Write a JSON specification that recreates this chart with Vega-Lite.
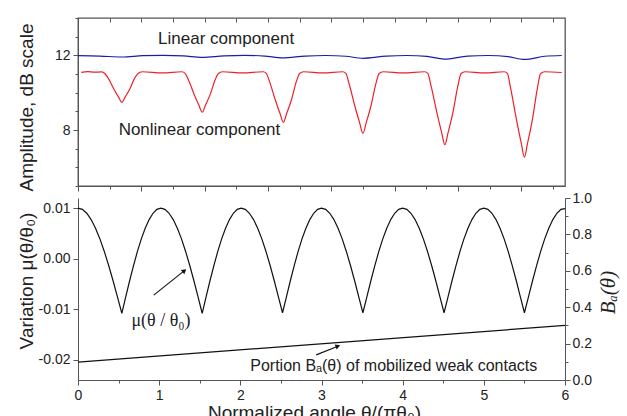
{
  "$schema": "https://vega.github.io/schema/vega-lite/v6.json",
  "padding": {"left": 16, "top": 10, "right": 5, "bottom": 0},
  "background": "white",
  "config": {
    "view": {"stroke": null},
    "axis": {"grid": false, "domainColor": "#555", "tickColor": "#555"}
  },
  "datasets": {
    "linear": [
      {"a":0,"v":11.98},{"a":0.27,"v":11.96},{"a":0.54,"v":11.91},{"a":0.8,"v":11.98},{"a":1.05,"v":12.0},{"a":1.3,"v":11.97},{"a":1.53,"v":11.89},{"a":1.8,"v":11.97},{"a":2.05,"v":12.0},{"a":2.3,"v":11.96},{"a":2.52,"v":11.86},{"a":2.8,"v":11.96},{"a":3.05,"v":11.99},{"a":3.3,"v":11.95},{"a":3.51,"v":11.84},{"a":3.8,"v":11.96},{"a":4.05,"v":11.99},{"a":4.3,"v":11.94},{"a":4.51,"v":11.8},{"a":4.8,"v":11.96},{"a":5.05,"v":11.99},{"a":5.3,"v":11.93},{"a":5.5,"v":11.78},{"a":5.75,"v":11.95},{"a":5.96,"v":11.99}
    ],
    "nonlinear": [
      {"a":0.04,"v":11.09},{"a":0.12,"v":11.13},{"a":0.2,"v":11.1},{"a":0.29,"v":11.11},{"a":0.33,"v":11.03},{"a":0.37,"v":10.79},{"a":0.44,"v":10.21},{"a":0.5,"v":9.76},{"a":0.54,"v":9.48},{"a":0.58,"v":9.76},{"a":0.64,"v":10.21},{"a":0.7,"v":10.79},{"a":0.74,"v":11.03},{"a":0.79,"v":11.12},{"a":1.04,"v":11.06},
      {"a":1.28,"v":11.12},{"a":1.32,"v":11.03},{"a":1.36,"v":10.69},{"a":1.43,"v":9.92},{"a":1.49,"v":9.32},{"a":1.53,"v":8.95},{"a":1.57,"v":9.32},{"a":1.63,"v":9.92},{"a":1.69,"v":10.69},{"a":1.73,"v":11.03},{"a":1.78,"v":11.12},{"a":2.03,"v":11.06},
      {"a":2.28,"v":11.12},{"a":2.32,"v":11.03},{"a":2.36,"v":10.59},{"a":2.43,"v":9.62},{"a":2.49,"v":8.87},{"a":2.53,"v":8.41},{"a":2.57,"v":8.87},{"a":2.63,"v":9.62},{"a":2.69,"v":10.59},{"a":2.73,"v":11.03},{"a":2.78,"v":11.12},{"a":3.02,"v":11.06},
      {"a":3.26,"v":11.12},{"a":3.3,"v":11.03},{"a":3.34,"v":10.48},{"a":3.41,"v":9.3},{"a":3.47,"v":8.38},{"a":3.51,"v":7.82},{"a":3.55,"v":8.38},{"a":3.61,"v":9.3},{"a":3.67,"v":10.48},{"a":3.71,"v":11.03},{"a":3.76,"v":11.12},{"a":4.01,"v":11.06},
      {"a":4.27,"v":11.12},{"a":4.31,"v":11.03},{"a":4.35,"v":10.36},{"a":4.42,"v":8.96},{"a":4.48,"v":7.87},{"a":4.52,"v":7.21},{"a":4.56,"v":7.87},{"a":4.62,"v":8.96},{"a":4.68,"v":10.36},{"a":4.72,"v":11.03},{"a":4.77,"v":11.12},{"a":5.01,"v":11.06},
      {"a":5.25,"v":11.12},{"a":5.29,"v":11.03},{"a":5.33,"v":10.24},{"a":5.4,"v":8.6},{"a":5.46,"v":7.32},{"a":5.5,"v":6.55},{"a":5.54,"v":7.32},{"a":5.6,"v":8.6},{"a":5.66,"v":10.24},{"a":5.7,"v":11.03},{"a":5.75,"v":11.12},{"a":5.96,"v":11.08}
    ],
    "toplabels": [
      {"a":1.825,"v":12.85,"t":"Linear component"},
      {"a":1.496,"v":8.0,"t":"Nonlinear component"}
    ],
    "mu": [
      {"a":0,"mu":0.0100},{"a":0.054,"mu":0.00975},{"a":0.108,"mu":0.00898},{"a":0.162,"mu":0.00773},{"a":0.216,"mu":0.00603},{"a":0.27,"mu":0.00391},{"a":0.324,"mu":0.00143},{"a":0.378,"mu":-0.00136},{"a":0.432,"mu":-0.00437},{"a":0.486,"mu":-0.00756},{"a":0.54,"mu":-0.0108},
      {"a":0.588,"mu":-0.00756},{"a":0.636,"mu":-0.00437},{"a":0.684,"mu":-0.00136},{"a":0.732,"mu":0.00143},{"a":0.78,"mu":0.00391},{"a":0.828,"mu":0.00603},{"a":0.876,"mu":0.00773},{"a":0.924,"mu":0.00898},{"a":0.972,"mu":0.00975},{"a":1.02,"mu":0.0100},
      {"a":1.071,"mu":0.00975},{"a":1.122,"mu":0.00898},{"a":1.173,"mu":0.00773},{"a":1.224,"mu":0.00603},{"a":1.275,"mu":0.00391},{"a":1.326,"mu":0.00143},{"a":1.377,"mu":-0.00136},{"a":1.428,"mu":-0.00437},{"a":1.479,"mu":-0.00756},{"a":1.53,"mu":-0.0108},
      {"a":1.578,"mu":-0.00756},{"a":1.626,"mu":-0.00437},{"a":1.674,"mu":-0.00136},{"a":1.722,"mu":0.00143},{"a":1.77,"mu":0.00391},{"a":1.818,"mu":0.00603},{"a":1.866,"mu":0.00773},{"a":1.914,"mu":0.00898},{"a":1.962,"mu":0.00975},{"a":2.01,"mu":0.0100},
      {"a":2.061,"mu":0.00975},{"a":2.112,"mu":0.00898},{"a":2.163,"mu":0.00773},{"a":2.214,"mu":0.00603},{"a":2.265,"mu":0.00391},{"a":2.316,"mu":0.00143},{"a":2.367,"mu":-0.00136},{"a":2.418,"mu":-0.00437},{"a":2.469,"mu":-0.00756},{"a":2.52,"mu":-0.0107},
      {"a":2.568,"mu":-0.00756},{"a":2.616,"mu":-0.00437},{"a":2.664,"mu":-0.00136},{"a":2.712,"mu":0.00143},{"a":2.76,"mu":0.00391},{"a":2.808,"mu":0.00603},{"a":2.856,"mu":0.00773},{"a":2.904,"mu":0.00898},{"a":2.952,"mu":0.00975},{"a":3.0,"mu":0.0100},
      {"a":3.051,"mu":0.00975},{"a":3.102,"mu":0.00898},{"a":3.153,"mu":0.00773},{"a":3.204,"mu":0.00603},{"a":3.255,"mu":0.00391},{"a":3.306,"mu":0.00143},{"a":3.357,"mu":-0.00136},{"a":3.408,"mu":-0.00437},{"a":3.459,"mu":-0.00756},{"a":3.51,"mu":-0.0107},
      {"a":3.559,"mu":-0.00756},{"a":3.608,"mu":-0.00437},{"a":3.657,"mu":-0.00136},{"a":3.706,"mu":0.00143},{"a":3.755,"mu":0.00391},{"a":3.804,"mu":0.00603},{"a":3.853,"mu":0.00773},{"a":3.902,"mu":0.00898},{"a":3.951,"mu":0.00975},{"a":4.0,"mu":0.0100},
      {"a":4.051,"mu":0.00975},{"a":4.102,"mu":0.00898},{"a":4.153,"mu":0.00773},{"a":4.204,"mu":0.00603},{"a":4.255,"mu":0.00391},{"a":4.306,"mu":0.00143},{"a":4.357,"mu":-0.00136},{"a":4.408,"mu":-0.00437},{"a":4.459,"mu":-0.00756},{"a":4.51,"mu":-0.0107},
      {"a":4.559,"mu":-0.00756},{"a":4.608,"mu":-0.00437},{"a":4.657,"mu":-0.00136},{"a":4.706,"mu":0.00143},{"a":4.755,"mu":0.00391},{"a":4.804,"mu":0.00603},{"a":4.853,"mu":0.00773},{"a":4.902,"mu":0.00898},{"a":4.951,"mu":0.00975},{"a":5.0,"mu":0.0100},
      {"a":5.05,"mu":0.00975},{"a":5.1,"mu":0.00898},{"a":5.15,"mu":0.00773},{"a":5.2,"mu":0.00603},{"a":5.25,"mu":0.00391},{"a":5.3,"mu":0.00143},{"a":5.35,"mu":-0.00136},{"a":5.4,"mu":-0.00437},{"a":5.45,"mu":-0.00756},{"a":5.5,"mu":-0.0107},
      {"a":5.55,"mu":-0.00756},{"a":5.6,"mu":-0.00437},{"a":5.65,"mu":-0.00136},{"a":5.7,"mu":0.00143},{"a":5.75,"mu":0.00391},{"a":5.8,"mu":0.00603},{"a":5.85,"mu":0.00773},{"a":5.9,"mu":0.00898},{"a":5.95,"mu":0.00975},{"a":6.0,"mu":0.0099}
    ],
    "portion": [{"a":0,"b":0.098},{"a":6,"b":0.30}],
    "arrow1": [{"a":0.933,"mu":-0.00722,"a2":1.311,"mu2":-0.00237}],
    "arrow2": [{"a":2.935,"b":0.138,"a2":3.202,"b2":0.186}],
    "mulabel": [{"a":1.023,"mu":-0.0123,"t":"μ(θ / θ₀)"}],
    "portionlabel": [{"a":3.89,"b":0.075,"t":"Portion Bₐ(θ) of mobilized weak contacts"}]
  },
  "bounds": "flush",
  "spacing": 12,
  "vconcat": [
    {
      "width": 487, "height": 168,
      "view": {"stroke": "#555", "strokeWidth": 1.3},
      "resolve": {"axis": {"x": "independent", "y": "independent"}},
      "layer": [
        {
          "data": {"name": "linear"},
          "mark": {"type": "line", "color": "#1c1ca8", "strokeWidth": 1.2, "interpolate": "monotone"},
          "encoding": {
            "x": {"field": "a", "type": "quantitative", "scale": {"domain": [0, 6], "nice": false, "zero": false},
              "axis": {"orient": "bottom", "labels": false, "title": null,
                "values": [0,0.39,0.78,1.17,1.56,1.95,2.34,2.73,3.12,3.51,3.9,4.29,4.68,5.07,5.46,5.85],
                "tickSize": {"condition": {"test": "indexof([0,0.78,1.56,2.34,3.12,3.9,4.68,5.46], datum.value) >= 0", "value": 5}, "value": 3}}},
            "y": {"field": "v", "type": "quantitative", "scale": {"domain": [5, 14], "nice": false, "zero": false},
              "axis": {"orient": "left", "title": "Amplitude, dB scale", "values": [5,6,7,8,9,10,11,12,13,14],
                "labelExpr": "datum.value % 4 === 0 ? datum.label : ''", "labelOverlap": false,
                "tickSize": {"condition": {"test": "datum.value % 4 === 0", "value": 5}, "value": 3},
                "labelFont": "Liberation Sans", "labelFontSize": 14, "labelColor": "#222", "labelPadding": 3,
                "titleFont": "Liberation Sans", "titleFontSize": 19, "titleFontWeight": "normal", "titleColor": "#222",
                "titleX": -46, "titleY": 89, "titleBaseline": "alphabetic"}}
          }
        },
        {
          "data": {"name": "nonlinear"},
          "mark": {"type": "line", "color": "#ee2028", "strokeWidth": 1.2, "interpolate": "monotone"},
          "encoding": {
            "x": {"field": "a", "type": "quantitative", "scale": {"domain": [0, 6], "nice": false, "zero": false},
              "axis": {"orient": "top", "labels": false, "title": null, "domain": false, "offset": -4, "tickSize": 4,
                "values": [0,0.39,0.78,1.17,1.56,1.95,2.34,2.73,3.12,3.51,3.9,4.29,4.68,5.07,5.46,5.85]}},
            "y": {"field": "v", "type": "quantitative", "scale": {"domain": [5, 14], "nice": false, "zero": false}, "axis": null}
          }
        },
        {
          "data": {"name": "toplabels"},
          "mark": {"type": "text", "fontSize": 17, "color": "#222", "font": "Liberation Sans"},
          "encoding": {
            "x": {"field": "a", "type": "quantitative", "scale": {"domain": [0, 6], "nice": false, "zero": false}, "axis": null},
            "y": {"field": "v", "type": "quantitative", "scale": {"domain": [5, 14], "nice": false, "zero": false}, "axis": null},
            "text": {"field": "t"}
          }
        }
      ]
    },
    {
      "width": 487, "height": 182,
      "resolve": {"scale": {"y": "independent"}, "axis": {"x": "independent", "y": "independent"}},
      "layer": [
        {
          "resolve": {"axis": {"x": "independent", "y": "independent"}},
          "layer": [
            {
              "data": {"name": "mu"},
              "mark": {"type": "line", "color": "#111", "strokeWidth": 1.2},
              "encoding": {
                "x": {"field": "a", "type": "quantitative", "scale": {"domain": [0, 6], "nice": false, "zero": false},
                  "axis": {"orient": "bottom", "title": "Normalized angle  θ/(πθ₀)", "values": [0,0.5,1,1.5,2,2.5,3,3.5,4,4.5,5,5.5,6],
                    "labelExpr": "datum.value % 1 === 0 ? format(datum.value, 'd') : ''", "labelOverlap": false,
                    "tickSize": {"condition": {"test": "datum.value % 1 === 0", "value": 5}, "value": 3},
                    "labelFlush": false, "labelPadding": 3,
                    "labelFont": "Liberation Sans", "labelFontSize": 14, "labelColor": "#222",
                    "titleFont": "Liberation Sans", "titleFontSize": 19, "titleFontWeight": "normal", "titleColor": "#222",
                    "titleX": 236, "titleY": 38, "titleBaseline": "alphabetic"}},
                "y": {"field": "mu", "type": "quantitative", "scale": {"domain": [-0.024, 0.012], "nice": false, "zero": false},
                  "axis": {"orient": "left", "title": "Variation  μ(θ/θ₀)", "values": [-0.02, -0.01, 0, 0.01], "format": ".2f",
                    "labelExpr": "replace(datum.label, '−', '-')", "labelOverlap": false, "tickSize": 5, "labelPadding": 3,
                    "labelFont": "Liberation Sans", "labelFontSize": 14, "labelColor": "#222",
                    "titleFont": "Liberation Sans", "titleFontSize": 19, "titleFontWeight": "normal", "titleColor": "#222",
                    "titleX": -46, "titleY": 82.5, "titleBaseline": "alphabetic"}}
              }
            },
            {
              "data": {"name": "arrow1"},
              "mark": {"type": "rule", "color": "#111", "strokeWidth": 1.1},
              "encoding": {
                "x": {"field": "a", "type": "quantitative", "scale": {"domain": [0, 6], "nice": false, "zero": false}, "axis": null},
                "y": {"field": "mu", "type": "quantitative", "scale": {"domain": [-0.024, 0.012], "nice": false, "zero": false}, "axis": null},
                "x2": {"field": "a2"},
                "y2": {"field": "mu2"}
              }
            },
            {
              "data": {"name": "arrow1"},
              "mark": {"type": "point", "shape": "triangle-right", "filled": true, "color": "#111", "size": 30, "angle": 321, "opacity": 1},
              "encoding": {
                "x": {"field": "a2", "type": "quantitative", "scale": {"domain": [0, 6], "nice": false, "zero": false}, "axis": null},
                "y": {"field": "mu2", "type": "quantitative", "scale": {"domain": [-0.024, 0.012], "nice": false, "zero": false}, "axis": null}
              }
            },
            {
              "data": {"name": "mulabel"},
              "mark": {"type": "text", "fontSize": 18, "color": "#222", "font": "Liberation Serif"},
              "encoding": {
                "x": {"field": "a", "type": "quantitative", "scale": {"domain": [0, 6], "nice": false, "zero": false}, "axis": null},
                "y": {"field": "mu", "type": "quantitative", "scale": {"domain": [-0.024, 0.012], "nice": false, "zero": false}, "axis": null},
                "text": {"field": "t"}
              }
            }
          ]
        },
        {
          "resolve": {"axis": {"x": "independent", "y": "independent"}},
          "layer": [
            {
              "data": {"name": "portion"},
              "mark": {"type": "line", "color": "#111", "strokeWidth": 1.2},
              "encoding": {
                "x": {"field": "a", "type": "quantitative", "scale": {"domain": [0, 6], "nice": false, "zero": false}, "axis": null},
                "y": {"field": "b", "type": "quantitative", "scale": {"domain": [0, 1], "nice": false, "zero": false},
                  "axis": {"orient": "right", "title": "Bₐ(θ)", "values": [0,0.1,0.2,0.3,0.4,0.5,0.6,0.7,0.8,0.9,1],
                    "labelExpr": "round(datum.value * 10) % 2 === 0 ? format(datum.value, '.1f') : ''", "labelOverlap": false,
                    "tickSize": {"condition": {"test": "round(datum.value * 10) % 2 === 0", "value": 5}, "value": 3},
                    "labelPadding": 2,
                    "labelFont": "Liberation Sans", "labelFontSize": 14, "labelColor": "#222",
                    "titleFont": "Liberation Serif", "titleFontStyle": "italic", "titleFontSize": 21, "titleFontWeight": "normal", "titleColor": "#222",
                    "titleAngle": 270, "titleX": 49, "titleY": 94, "titleBaseline": "alphabetic"}}
              }
            },
            {
              "data": {"name": "arrow2"},
              "mark": {"type": "rule", "color": "#111", "strokeWidth": 1.1},
              "encoding": {
                "x": {"field": "a", "type": "quantitative", "scale": {"domain": [0, 6], "nice": false, "zero": false}, "axis": null},
                "y": {"field": "b", "type": "quantitative", "scale": {"domain": [0, 1], "nice": false, "zero": false}, "axis": null},
                "x2": {"field": "a2"},
                "y2": {"field": "b2"}
              }
            },
            {
              "data": {"name": "arrow2"},
              "mark": {"type": "point", "shape": "triangle-right", "filled": true, "color": "#111", "size": 30, "angle": 338, "opacity": 1},
              "encoding": {
                "x": {"field": "a2", "type": "quantitative", "scale": {"domain": [0, 6], "nice": false, "zero": false}, "axis": null},
                "y": {"field": "b2", "type": "quantitative", "scale": {"domain": [0, 1], "nice": false, "zero": false}, "axis": null}
              }
            },
            {
              "data": {"name": "portionlabel"},
              "mark": {"type": "text", "fontSize": 16, "color": "#222", "font": "Liberation Sans"},
              "encoding": {
                "x": {"field": "a", "type": "quantitative", "scale": {"domain": [0, 6], "nice": false, "zero": false}, "axis": null},
                "y": {"field": "b", "type": "quantitative", "scale": {"domain": [0, 1], "nice": false, "zero": false}, "axis": null},
                "text": {"field": "t"}
              }
            }
          ]
        }
      ]
    }
  ]
}
